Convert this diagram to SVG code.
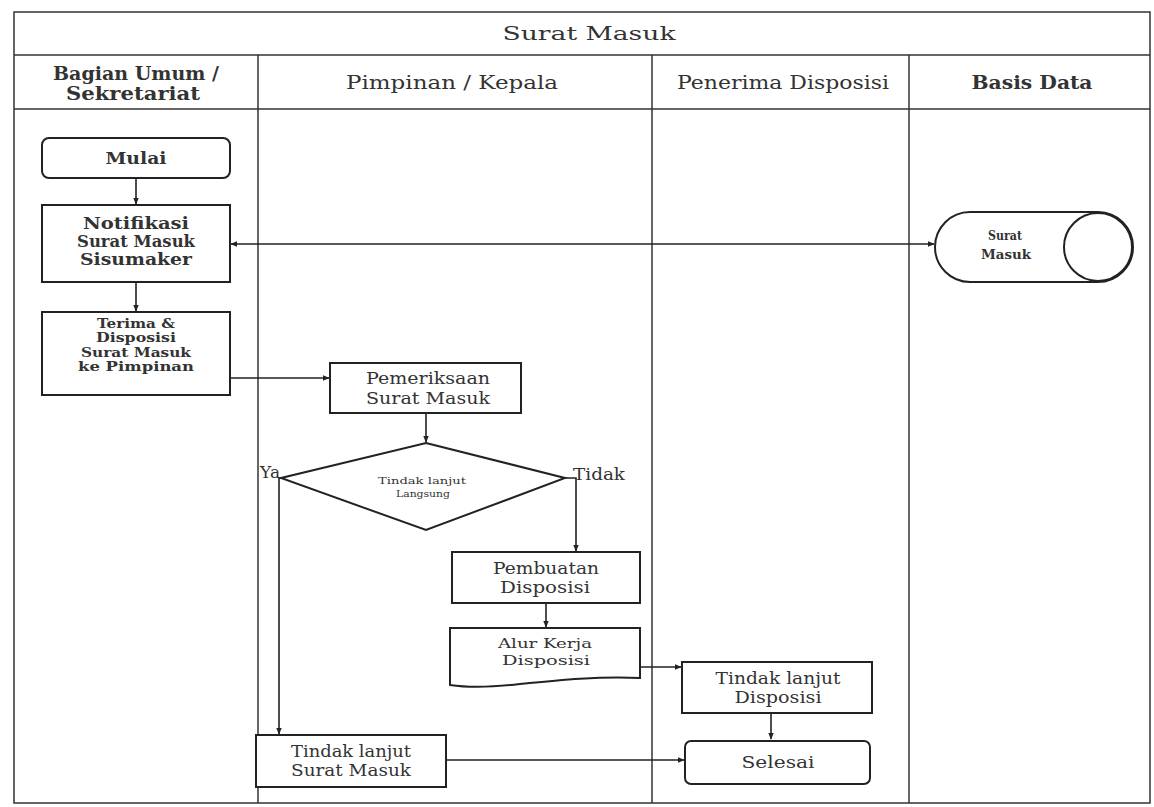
<svg xmlns="http://www.w3.org/2000/svg" width="1154" height="807" viewBox="0 0 1154 807">
<style>
text{font-family:"DejaVu Serif","Liberation Serif",serif;fill:#333;text-anchor:middle}
.h{font-size:18px}
.ti{font-size:19px}
.b{font-weight:bold}
.n{font-size:16px}
.s{font-size:13px}
.t{font-size:10px}
.box{fill:#fff;stroke:#222;stroke-width:2}
.lane{fill:none;stroke:#333;stroke-width:1.5}
.c{fill:none;stroke:#222;stroke-width:1.6}
</style>
<defs>
<marker id="a" viewBox="0 0 10 10" refX="9" refY="5" markerWidth="7" markerHeight="7" orient="auto-start-reverse" markerUnits="userSpaceOnUse">
<path d="M0,1 L10,5 L0,9 z" fill="#222"/>
</marker>
</defs>
<rect width="1154" height="807" fill="#fff"/>
<g id="lanes">
<rect class="lane" x="14" y="12" width="1136" height="791"/>
<line class="lane" x1="14" y1="55" x2="1150" y2="55"/>
<line class="lane" x1="14" y1="109" x2="1150" y2="109"/>
<line class="lane" x1="258" y1="55" x2="258" y2="803"/>
<line class="lane" x1="652" y1="55" x2="652" y2="803"/>
<line class="lane" x1="909" y1="55" x2="909" y2="803"/>
<text class="ti" x="589" y="40" textLength="173" lengthAdjust="spacingAndGlyphs">Surat Masuk</text>
<text class="h b" x="136" y="80" textLength="166" lengthAdjust="spacingAndGlyphs">Bagian Umum /</text>
<text class="h b" x="133" y="100" textLength="134" lengthAdjust="spacingAndGlyphs">Sekretariat</text>
<text class="h" x="452" y="89" textLength="212" lengthAdjust="spacingAndGlyphs">Pimpinan / Kepala</text>
<text class="h" x="783" y="89" textLength="212" lengthAdjust="spacingAndGlyphs">Penerima Disposisi</text>
<text class="h b" x="1032" y="89" textLength="121" lengthAdjust="spacingAndGlyphs">Basis Data</text>
</g>
<g id="connectors">
<line class="c" x1="136" y1="178" x2="136" y2="204" marker-end="url(#a)"/>
<line class="c" x1="136" y1="282" x2="136" y2="311" marker-end="url(#a)"/>
<line class="c" x1="231" y1="244" x2="934" y2="244" marker-start="url(#a)" marker-end="url(#a)"/>
<line class="c" x1="230" y1="378" x2="329" y2="378" marker-end="url(#a)"/>
<line class="c" x1="426" y1="413" x2="426" y2="442" marker-end="url(#a)"/>
<polyline class="c" points="281,478 279,478 279,734" marker-end="url(#a)"/>
<polyline class="c" points="565,478 576,478 576,551" marker-end="url(#a)"/>
<line class="c" x1="546" y1="603" x2="546" y2="627" marker-end="url(#a)"/>
<line class="c" x1="640" y1="667" x2="681" y2="667" marker-end="url(#a)"/>
<line class="c" x1="771" y1="713" x2="771" y2="739" marker-end="url(#a)"/>
<line class="c" x1="446" y1="760" x2="684" y2="760" marker-end="url(#a)"/>
<text class="n" x="270" y="478" textLength="20" lengthAdjust="spacingAndGlyphs">Ya</text>
<text class="n" x="599" y="480" textLength="52" lengthAdjust="spacingAndGlyphs">Tidak</text>
</g>
<g id="mulai">
<rect class="box" x="42" y="138" width="188" height="40" rx="7"/>
<text class="n b" x="136" y="164" textLength="61" lengthAdjust="spacingAndGlyphs">Mulai</text>
</g>
<g id="notifikasi">
<rect class="box" x="42" y="205" width="188" height="77"/>
<text class="n b" x="136" y="229" textLength="106" lengthAdjust="spacingAndGlyphs">Notifikasi</text>
<text class="n b" x="136" y="247" textLength="118" lengthAdjust="spacingAndGlyphs">Surat Masuk</text>
<text class="n b" x="136" y="265" textLength="112" lengthAdjust="spacingAndGlyphs">Sisumaker</text>
</g>
<g id="terima">
<rect class="box" x="42" y="312" width="188" height="83"/>
<text class="s b" x="136" y="328" textLength="78" lengthAdjust="spacingAndGlyphs">Terima &amp;</text>
<text class="s b" x="136" y="342" textLength="80" lengthAdjust="spacingAndGlyphs">Disposisi</text>
<text class="s b" x="136" y="357" textLength="110" lengthAdjust="spacingAndGlyphs">Surat Masuk</text>
<text class="s b" x="136" y="371" textLength="116" lengthAdjust="spacingAndGlyphs">ke Pimpinan</text>
</g>
<g id="db-surat-masuk">
<path class="box" d="M970,212 H1098 A35,35 0 0 1 1098,282 H970 A35,35 0 0 1 970,212 Z"/>
<circle class="box" cx="1098" cy="247" r="34"/>
<text class="s b" x="1005" y="240" textLength="34" lengthAdjust="spacingAndGlyphs">Surat</text>
<text class="s b" x="1006" y="259" textLength="50" lengthAdjust="spacingAndGlyphs">Masuk</text>
</g>
<g id="pemeriksaan">
<rect class="box" x="330" y="363" width="191" height="50"/>
<text class="n" x="428" y="384" textLength="124" lengthAdjust="spacingAndGlyphs">Pemeriksaan</text>
<text class="n" x="428" y="404" textLength="124" lengthAdjust="spacingAndGlyphs">Surat Masuk</text>
</g>
<g id="keputusan">
<polygon class="box" points="426,443 565,478 426,530 281,478"/>
<text class="t" x="422" y="484" textLength="88" lengthAdjust="spacingAndGlyphs">Tindak lanjut</text>
<text class="t" x="423" y="497" textLength="54" lengthAdjust="spacingAndGlyphs">Langsung</text>
</g>
<g id="pembuatan">
<rect class="box" x="452" y="552" width="188" height="51"/>
<text class="n" x="546" y="574" textLength="106" lengthAdjust="spacingAndGlyphs">Pembuatan</text>
<text class="n" x="545" y="593" textLength="90" lengthAdjust="spacingAndGlyphs">Disposisi</text>
</g>
<g id="alur-kerja">
<path class="box" d="M450,628 H640 V678 C600,676 560,680 520,684 C495,687 470,688 450,685 Z"/>
<text class="s" x="545" y="648" textLength="94" lengthAdjust="spacingAndGlyphs">Alur Kerja</text>
<text class="s" x="546" y="665" textLength="88" lengthAdjust="spacingAndGlyphs">Disposisi</text>
</g>
<g id="tl-disposisi">
<rect class="box" x="682" y="662" width="190" height="51"/>
<text class="n" x="778" y="684" textLength="125" lengthAdjust="spacingAndGlyphs">Tindak lanjut</text>
<text class="n" x="778" y="703" textLength="87" lengthAdjust="spacingAndGlyphs">Disposisi</text>
</g>
<g id="selesai">
<rect class="box" x="685" y="741" width="185" height="43" rx="6"/>
<text class="n" x="778" y="768" textLength="73" lengthAdjust="spacingAndGlyphs">Selesai</text>
</g>
<g id="tl-surat-masuk">
<rect class="box" x="256" y="735" width="190" height="52"/>
<text class="n" x="351" y="757" textLength="120" lengthAdjust="spacingAndGlyphs">Tindak lanjut</text>
<text class="n" x="351" y="776" textLength="120" lengthAdjust="spacingAndGlyphs">Surat Masuk</text>
</g>
</svg>
